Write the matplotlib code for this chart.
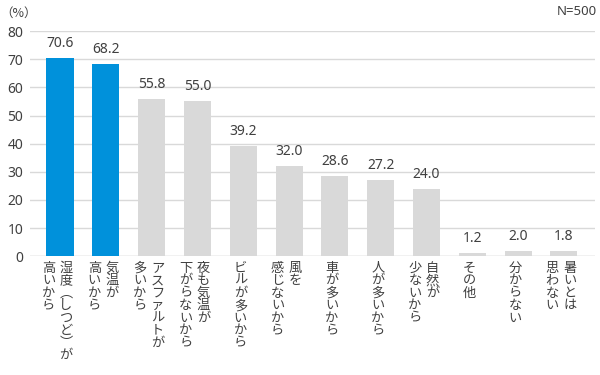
import matplotlib
matplotlib.use("Agg")
import matplotlib.pyplot as plt

plt.rcParams['font.family'] = ['Noto Sans CJK JP', 'DejaVu Sans']

# each label is a list of vertical columns, read right to left
label_columns = [
    ["湿度（しつど）が", "高いから"],
    ["気温が", "高いから"],
    ["アスファルトが", "多いから"],
    ["夜も気温が", "下がらないから"],
    ["ビルが多いから"],
    ["風を", "感じないから"],
    ["車が多いから"],
    ["人が多いから"],
    ["自然が", "少ないから"],
    ["その他"],
    ["分からない"],
    ["暑いとは", "思わない"],
]
values = [70.6, 68.2, 55.8, 55.0, 39.2, 32.0, 28.6, 27.2, 24.0, 1.2, 2.0, 1.8]
highlight = [True, True] + [False] * 10
y_ticks = [0, 10, 20, 30, 40, 50, 60, 70, 80]

BLUE = '#0091DB'
GRAY = '#D9D9D9'
TEXT = '#404040'
NUM_FONT = ['Noto Sans', 'DejaVu Sans']

# vertical writing forms for brackets
vert_map = {'（': '\ufe35', '）': '\ufe36'}


def to_vertical(s):
    return '\n'.join(vert_map.get(c, c) for c in s)


fig = plt.figure(figsize=(6, 3.75), dpi=100)
ax = fig.add_axes([0.05, 0.317, 0.9417, 0.6])

x = list(range(len(values)))
colors = [BLUE if h else GRAY for h in highlight]
ax.bar(x, values, width=0.59, color=colors, zorder=2)

for xi, v in zip(x, values):
    ax.annotate(f'{v:.1f}', xy=(xi, v), xytext=(0, 5), textcoords='offset points',
                ha='center', va='bottom', fontsize=10, color=TEXT, family=NUM_FONT)

ax.set_xlim(-0.655, 11.68)
ax.set_ylim(0, 80)
ax.set_yticks(y_ticks)
ax.tick_params(axis='y', length=0, pad=5, labelsize=10, labelcolor=TEXT)
for lbl in ax.get_yticklabels():
    lbl.set_family(NUM_FONT)
ax.set_xticks([])
ax.yaxis.grid(True, color='#D9D9D9', linewidth=1, zorder=0)
for side in ['top', 'right', 'left', 'bottom']:
    ax.spines[side].set_visible(False)
ax.axhline(0, color='#D9D9D9', linewidth=1, zorder=1)

# vertical category labels
col_gap = 12.6
for xi, cols in zip(x, label_columns):
    n = len(cols)
    for k, col in enumerate(cols):
        # first column goes on the right
        off = (n - 1) / 2 * col_gap - k * col_gap - 2
        ax.annotate(to_vertical(col), xy=(xi, 0), xycoords=('data', 'axes fraction'),
                    xytext=(off, -4), textcoords='offset points',
                    ha='center', va='top', fontsize=9.5, color=TEXT,
                    linespacing=0.95)

fig.text(0.0, 0.965, '（%）', ha='left', va='center', fontsize=9, color=TEXT)
fig.text(0.995, 0.97, 'N=500', ha='right', va='center', fontsize=9.5, color=TEXT,
         family=NUM_FONT)

fig.savefig('out.png', dpi=100, facecolor='white')
